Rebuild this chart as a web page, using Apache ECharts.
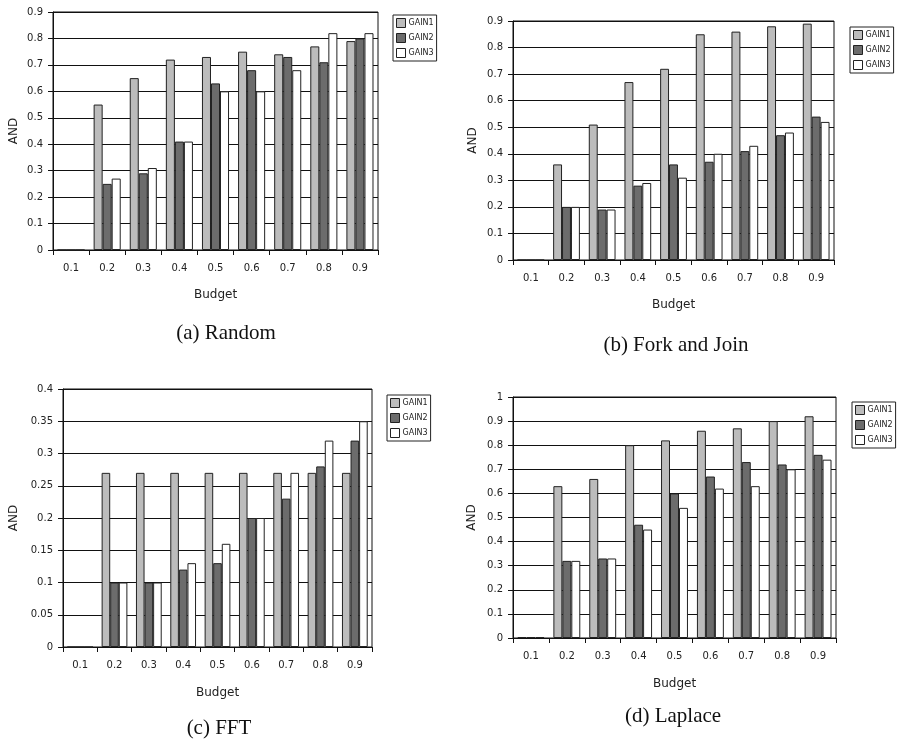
<!DOCTYPE html>
<html>
<head>
<meta charset="utf-8">
<script src="https://cdn.jsdelivr.net/npm/echarts@6/dist/echarts.min.js"></script>
<style>
html,body{margin:0;padding:0;background:#fff;}
#chart{width:903px;height:745px;}
</style>
</head>
<body>
<div id="chart"></div>
<script>
const categories = ['0.1','0.2','0.3','0.4','0.5','0.6','0.7','0.8','0.9'];
const seriesNames = ['GAIN1','GAIN2','GAIN3'];

// (a) Random
const randomGain1 = [0, 0.55, 0.65, 0.72, 0.73, 0.75, 0.74, 0.77, 0.79];
const randomGain2 = [0, 0.25, 0.29, 0.41, 0.63, 0.68, 0.73, 0.71, 0.80];
const randomGain3 = [0, 0.27, 0.31, 0.41, 0.60, 0.60, 0.68, 0.82, 0.82];

// (b) Fork and Join
const forkGain1 = [0, 0.36, 0.51, 0.67, 0.72, 0.85, 0.86, 0.88, 0.89];
const forkGain2 = [0, 0.20, 0.19, 0.28, 0.36, 0.37, 0.41, 0.47, 0.54];
const forkGain3 = [0, 0.20, 0.19, 0.29, 0.31, 0.40, 0.43, 0.48, 0.52];

// (c) FFT
const fftGain1 = [0, 0.27, 0.27, 0.27, 0.27, 0.27, 0.27, 0.27, 0.27];
const fftGain2 = [0, 0.10, 0.10, 0.12, 0.13, 0.20, 0.23, 0.28, 0.32];
const fftGain3 = [0, 0.10, 0.10, 0.13, 0.16, 0.20, 0.27, 0.32, 0.35];

// (d) Laplace
const lapGain1 = [0.003, 0.63, 0.66, 0.80, 0.82, 0.86, 0.87, 0.90, 0.92];
const lapGain2 = [0.003, 0.32, 0.33, 0.47, 0.60, 0.67, 0.73, 0.72, 0.76];
const lapGain3 = [0.003, 0.32, 0.33, 0.45, 0.54, 0.62, 0.63, 0.70, 0.74];

const yMax = [0.9, 0.9, 0.4, 1];
const yInterval = [0.1, 0.1, 0.05, 0.1];
const subtitles = ['(a) Random', '(b) Fork and Join', '(c) FFT', '(d) Laplace'];

const panels = [
  [randomGain1, randomGain2, randomGain3],
  [forkGain1, forkGain2, forkGain3],
  [fftGain1, fftGain2, fftGain3],
  [lapGain1, lapGain2, lapGain3]
];

const colors = ['#bcbcbc', '#6c6c6c', '#ffffff'];
const sans = 'DejaVu Sans';

const grids = [
  {left: 53, top: 12, width: 325, height: 238},
  {left: 513, top: 21, width: 321, height: 239},
  {left: 63, top: 389, width: 309, height: 258},
  {left: 513, top: 397, width: 323, height: 241}
];
const yNameGap = [33, 34, 43, 35];
const xNameGap = [39, 39, 40, 40];
const legendPos = [
  {left: 393, top: 15},
  {left: 850, top: 27},
  {left: 387, top: 395},
  {left: 852, top: 402}
];
const titlePos = [
  {x: 221, y: 318},
  {x: 671, y: 330},
  {x: 214, y: 713},
  {x: 668, y: 701}
];

const chart = echarts.init(document.getElementById('chart'));

const option = {
  backgroundColor: '#fff',
  animation: false,
  title: subtitles.map((t, i) => ({
    text: t,
    left: titlePos[i].x,
    top: titlePos[i].y,
    textAlign: 'center',
    textStyle: {fontFamily: 'Liberation Serif', fontSize: 21, fontWeight: 'normal', color: '#111'}
  })),
  grid: grids.map(g => Object.assign({show: true, borderColor: '#111', borderWidth: 1, backgroundColor: '#fff'}, g)),
  legend: legendPos.map(p => ({
    left: p.left, top: p.top,
    orient: 'vertical',
    data: seriesNames,
    itemWidth: 9, itemHeight: 9, itemGap: 5,
    padding: [3, 3, 3, 3],
    borderColor: '#222', borderWidth: 1,
    icon: 'rect',
    itemStyle: {borderColor: '#222', borderWidth: 1},
    textStyle: {fontFamily: sans, fontSize: 8, color: '#222', padding: [0, 0, 0, -2]},
    selectedMode: false
  })),
  xAxis: grids.map((g, i) => ({
    type: 'category',
    gridIndex: i,
    data: categories,
    name: 'Budget',
    nameLocation: 'middle',
    nameGap: xNameGap[i],
    nameTextStyle: {fontFamily: sans, fontSize: 12, color: '#222'},
    axisLine: {show: true, lineStyle: {color: '#111', width: 1}},
    axisTick: {show: true, length: 5, alignWithLabel: false, lineStyle: {color: '#111'}},
    axisLabel: {fontFamily: sans, fontSize: 10, color: '#222', margin: 13},
    splitLine: {show: false}
  })),
  yAxis: grids.map((g, i) => ({
    type: 'value',
    gridIndex: i,
    min: 0,
    max: yMax[i],
    interval: yInterval[i],
    name: 'AND',
    nameLocation: 'middle',
    nameRotate: 90,
    nameGap: yNameGap[i],
    nameTextStyle: {fontFamily: sans, fontSize: 12, color: '#222'},
    axisLine: {show: true, lineStyle: {color: '#111', width: 1}},
    axisTick: {show: true, length: 5, lineStyle: {color: '#111'}},
    axisLabel: {fontFamily: sans, fontSize: 10, color: '#222', margin: 10},
    splitLine: {show: true, lineStyle: {color: '#111', width: 1}}
  })),
  series: []
};

panels.forEach((panel, pi) => {
  panel.forEach((data, si) => {
    option.series.push({
      type: 'bar',
      name: seriesNames[si],
      xAxisIndex: pi,
      yAxisIndex: pi,
      data: data,
      barWidth: '25%',
      barGap: '0%',
      itemStyle: {color: colors[si], borderColor: '#222', borderWidth: 1}
    });
  });
});

chart.setOption(option);
</script>
</body>
</html>
